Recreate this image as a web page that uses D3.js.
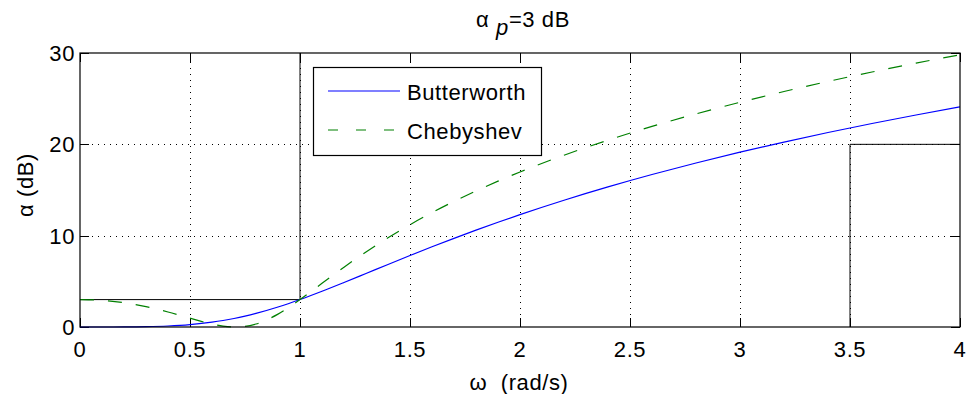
<!DOCTYPE html>
<html>
<head>
<meta charset="utf-8">
<script src="https://cdn.jsdelivr.net/npm/d3@7"></script>
<style>
  body { margin: 0; background: #fff; }
  svg text { font-family: "Liberation Sans", Arial, sans-serif; fill: #000; letter-spacing: 0.6px; }
</style>
</head>
<body>
<svg id="chart" width="968" height="394"></svg>
<script>
// data
const omega = [0, 0.1, 0.2, 0.3, 0.4, 0.5, 0.6, 0.65, 0.7, 0.75, 0.8, 0.9, 1.0, 1.1, 1.2, 1.3, 1.4, 1.5, 1.6, 1.7, 1.8, 1.9, 2.0,
  2.2, 2.4, 2.6, 2.8, 3.0, 3.2, 3.4, 3.6, 3.8, 4.0];
const butterworth = [0, 0.0004, 0.007, 0.035, 0.11, 0.263, 0.529, 0.713, 0.934, 1.194, 1.491, 2.191, 3.01, 3.917, 4.877, 5.861, 6.85, 7.826, 8.782, 9.709, 10.606, 11.471, 12.304,
  13.879, 15.337, 16.693, 17.957, 19.138, 20.247, 21.292, 22.278, 23.212, 24.099];
const chebyshev = [3.0, 2.913, 2.654, 2.225, 1.644, 0.965, 0.326, 0.103, 0.002, 0.067, 0.326, 1.407, 3.0, 4.781, 6.549, 8.22, 9.771, 11.203, 12.527, 13.755, 14.898, 15.967, 16.97,
  18.808, 20.459, 21.959, 23.334, 24.604, 25.783, 26.884, 27.918, 28.891, 29.811];
// passband / stopband spec lines
const passSpec = [[0, 3], [1, 3], [1, 30]];
const stopSpec = [[3.5, 0], [3.5, 20], [4, 20]];
const xTicks = [0, 0.5, 1, 1.5, 2, 2.5, 3, 3.5, 4];
const yTicks = [0, 10, 20, 30];
const seriesNames = ["Butterworth", "Chebyshev"];

const margin = { left: 80, right: 8, top: 53, bottom: 67 };
const width = 968, height = 394;
const fs = 22;

const svg = d3.select("#chart");

const x = d3.scaleLinear().domain([0, 4]).range([margin.left, width - margin.right]);
const y = d3.scaleLinear().domain([0, 30]).range([height - margin.bottom, margin.top]);

const x0 = x(0), x1 = x(4), y0 = y(0), y1 = y(30);

// dotted grid
const grid = svg.append("g").attr("stroke", "#000").attr("stroke-width", 1)
  .attr("stroke-dasharray", "1,5").attr("shape-rendering", "crispEdges");
grid.selectAll("line.gx").data(xTicks.slice(1, -1)).join("line")
  .attr("x1", d => Math.round(x(d)) + 0.5).attr("x2", d => Math.round(x(d)) + 0.5)
  .attr("y1", y0).attr("y2", y1);
grid.selectAll("line.gy").data(yTicks.slice(1, -1)).join("line")
  .attr("y1", d => Math.round(y(d)) + 0.5).attr("y2", d => Math.round(y(d)) + 0.5)
  .attr("x1", x0).attr("x2", x1);

// inward ticks on all sides
const tk = svg.append("g").attr("stroke", "#000").attr("shape-rendering", "crispEdges");
xTicks.forEach(d => {
  const px = Math.round(x(d)) + 0.5;
  tk.append("line").attr("x1", px).attr("x2", px).attr("y1", y0).attr("y2", y0 - 9);
  tk.append("line").attr("x1", px).attr("x2", px).attr("y1", y1).attr("y2", y1 + 9);
});
yTicks.forEach(d => {
  const py = Math.round(y(d)) + 0.5;
  tk.append("line").attr("x1", x0).attr("x2", x0 + 9).attr("y1", py).attr("y2", py);
  tk.append("line").attr("x1", x1).attr("x2", x1 - 9).attr("y1", py).attr("y2", py);
});

// tick labels
svg.append("g").selectAll("text").data(xTicks).join("text")
  .attr("x", d => x(d)).attr("y", y0 + 30)
  .attr("text-anchor", "middle").attr("font-size", fs)
  .text(d => d);
svg.append("g").selectAll("text").data(yTicks).join("text")
  .attr("x", x0 - 5).attr("y", d => y(d) + 8)
  .attr("text-anchor", "end").attr("font-size", fs)
  .text(d => d);

// spec lines
const line = d3.line().x(d => x(d[0])).y(d => y(d[1]));
[passSpec, stopSpec].forEach(s => {
  svg.append("path").attr("d", line(s)).attr("fill", "none")
    .attr("stroke", "#000").attr("stroke-width", 1);
});

// curves
const curve = d3.line().x((d, i) => x(omega[i])).y(d => y(d)).curve(d3.curveMonotoneX);
svg.append("path").attr("d", curve(butterworth)).attr("fill", "none")
  .attr("stroke", "#0000ff").attr("stroke-width", 1.2);
svg.append("path").attr("d", curve(chebyshev)).attr("fill", "none")
  .attr("stroke", "#008000").attr("stroke-width", 1.2).attr("stroke-dasharray", "14,14");

// axes box
svg.append("rect").attr("x", x0).attr("y", y1).attr("width", x1 - x0).attr("height", y0 - y1)
  .attr("fill", "none").attr("stroke", "#000").attr("stroke-width", 1.2);

// legend
const lg = svg.append("g");
lg.append("rect").attr("x", 313.5).attr("y", 67.5).attr("width", 228).attr("height", 88)
  .attr("fill", "#fff").attr("stroke", "#000").attr("stroke-width", 1.2);
const lgColors = ["#0000ff", "#008000"];
const lgDash = [null, "10,18"];
seriesNames.forEach((name, i) => {
  const ly = 91 + i * 39;
  lg.append("line").attr("x1", 328).attr("x2", 400).attr("y1", ly).attr("y2", ly)
    .attr("stroke", lgColors[i]).attr("stroke-width", 1.2).attr("stroke-dasharray", lgDash[i]);
  lg.append("text").attr("x", 407).attr("y", ly + 8.5).attr("font-size", fs).text(name);
});

// title
const title = svg.append("text").attr("x", 476).attr("y", 27).attr("font-size", fs);
title.append("tspan").text("α ");
title.append("tspan").attr("font-style", "italic").attr("dy", 8).text("p");
title.append("tspan").attr("dy", -8).text("=3 dB");

// axis labels
svg.append("text").attr("x", 519).attr("y", 390).attr("text-anchor", "middle")
  .attr("font-size", fs).attr("xml:space", "preserve").text("ω  (rad/s)");
svg.append("text").attr("transform", "translate(33,185) rotate(-90)")
  .attr("text-anchor", "middle").attr("font-size", fs).text("α (dB)");
</script>
</body>
</html>
